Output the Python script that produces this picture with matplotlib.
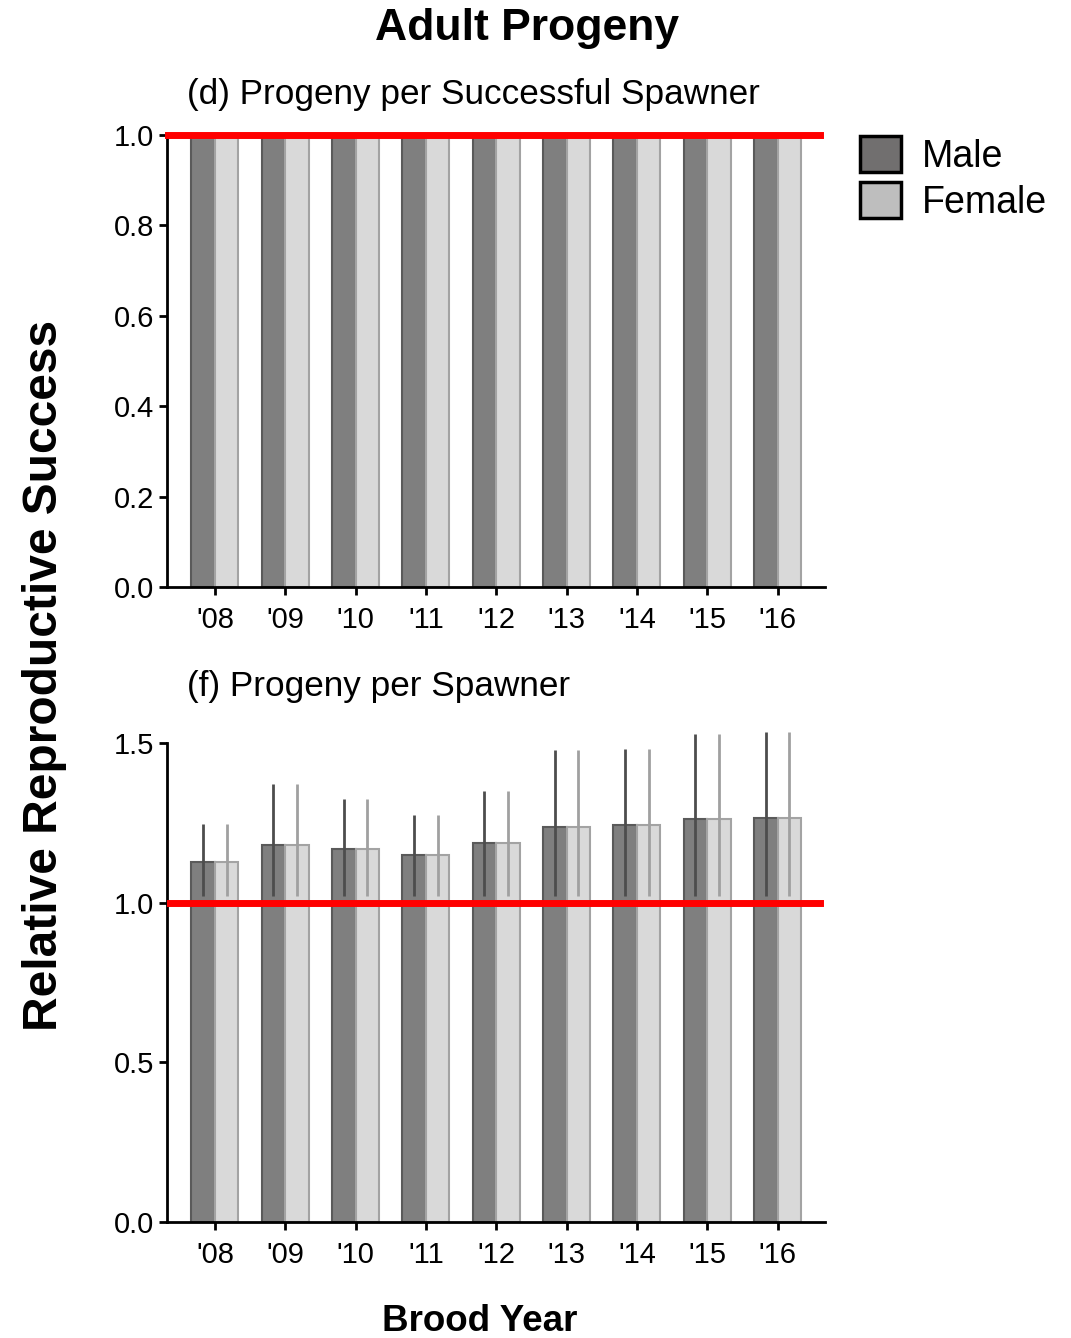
import matplotlib
matplotlib.use("Agg")
import matplotlib.pyplot as plt
from matplotlib.patches import Patch
import numpy as np

plt.rcParams['font.family'] = ['Liberation Sans', 'DejaVu Sans']

# data
years = ["'08", "'09", "'10", "'11", "'12", "'13", "'14", "'15", "'16"]
d_male = [1.0, 1.0, 1.0, 1.0, 1.0, 1.0, 1.0, 1.0, 1.0]
d_female = [1.0, 1.0, 1.0, 1.0, 1.0, 1.0, 1.0, 1.0, 1.0]
f_male = [1.128, 1.181, 1.169, 1.150, 1.188, 1.238, 1.244, 1.263, 1.266]
f_female = [1.128, 1.181, 1.169, 1.150, 1.188, 1.238, 1.244, 1.263, 1.266]
f_lower = [1.02, 1.02, 1.02, 1.02, 1.02, 1.02, 1.02, 1.02, 1.02]
f_upper = [1.247, 1.372, 1.325, 1.275, 1.350, 1.478, 1.481, 1.528, 1.534]

male_fill, male_edge, male_err = '#7f7f7f', '#5a5a5a', '#4d4d4d'
fem_fill, fem_edge, fem_err = '#d9d9d9', '#a3a3a3', '#a0a0a0'

fig = plt.figure(figsize=(10.71, 13.38), dpi=100)
ax_d = fig.add_axes([0.156, 0.5613, 0.614, 0.3378])
ax_f = fig.add_axes([0.156, 0.0867, 0.614, 0.358])

x = np.arange(len(years))
w = 0.335


def style_axis(ax, yticks, ylabels):
    ax.set_xlim(-0.68, len(years) - 1 + 0.67)
    ax.set_xticks(x)
    ax.set_xticklabels(years)
    ax.set_yticks(yticks)
    ax.set_yticklabels(ylabels)
    ax.set_ylim(yticks[0], yticks[-1])
    for s in ['top', 'right']:
        ax.spines[s].set_visible(False)
    for s in ['left', 'bottom']:
        ax.spines[s].set_linewidth(2)
    ax.tick_params(axis='both', length=5.5, width=2, labelsize=21, pad=4,
                   colors='black')
    ax.tick_params(axis='x', pad=8)


def draw_bars(ax, male, female):
    ax.bar(x - w / 2, male, w, color=male_fill, edgecolor=male_edge,
           linewidth=1.5, zorder=2)
    ax.bar(x + w / 2, female, w, color=fem_fill, edgecolor=fem_edge,
           linewidth=1.5, zorder=2)


# (d) panel
draw_bars(ax_d, d_male, d_female)
style_axis(ax_d, [0.0, 0.2, 0.4, 0.6, 0.8, 1.0],
           ['0.0', '0.2', '0.4', '0.6', '0.8', '1.0'])
ax_d.axhline(1.0, xmin=0.002, xmax=0.993, color='red', linewidth=5,
             zorder=5, clip_on=False)
ax_d.set_title('(d) Progeny per Successful Spawner', loc='left', fontsize=25.3,
               x=0.03, pad=22)

# (f) panel
draw_bars(ax_f, f_male, f_female)
ax_f.vlines(x - w / 2, f_lower, f_upper, color=male_err, linewidth=2,
            zorder=3, clip_on=False)
ax_f.vlines(x + w / 2, f_lower, f_upper, color=fem_err, linewidth=2,
            zorder=3, clip_on=False)
style_axis(ax_f, [0.0, 0.5, 1.0, 1.5], ['0.0', '0.5', '1.0', '1.5'])
ax_f.axhline(1.0, xmin=0.002, xmax=0.993, color='red', linewidth=5, zorder=5)
ax_f.set_title('(f) Progeny per Spawner', loc='left', fontsize=25.3,
               x=0.03, pad=34)

fig.text(0.492, 0.979, 'Adult Progeny', ha='center', va='center',
         fontsize=32, fontweight='bold')
fig.text(0.042, 0.4955, 'Relative Reproductive Success', rotation=90,
         ha='center', va='center', fontsize=34.5, fontweight='bold')
fig.text(0.448, 0.0125, 'Brood Year', ha='center', va='center',
         fontsize=26.5, fontweight='bold')

handles = [Patch(facecolor='#716f6f', edgecolor='black', linewidth=2.5,
                 label='Male'),
           Patch(facecolor='#bebebe', edgecolor='black', linewidth=2.5,
                 label='Female')]
fig.legend(handles=handles, loc='upper left', bbox_to_anchor=(0.789, 0.9095),
           frameon=False, fontsize=27, handlelength=1.1, handleheight=1.1,
           handletextpad=0.55, labelspacing=0.2, borderaxespad=0)

fig.savefig('out.png', dpi=100)
